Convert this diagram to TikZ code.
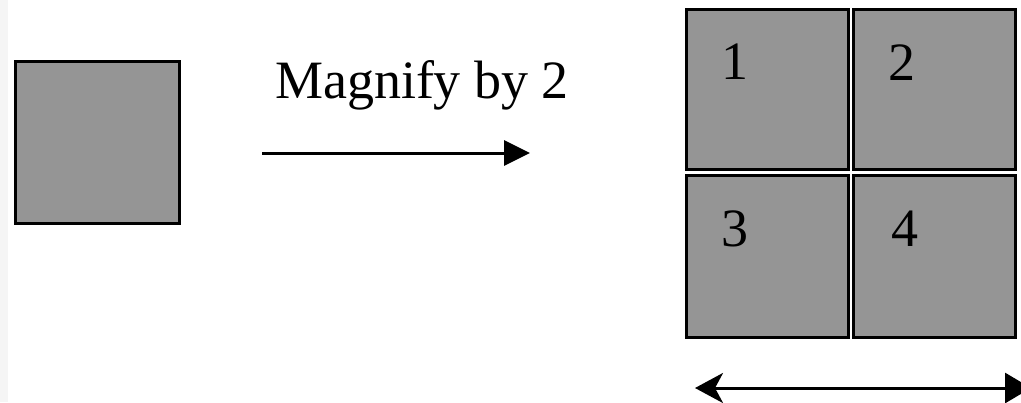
\documentclass[tikz,border=0pt]{standalone}
\usepackage{fontspec}
\setmainfont{Liberation Serif}
\usepackage{xcolor}
\usetikzlibrary{arrows.meta, positioning}
\definecolor{tilegray}{HTML}{959595}
\definecolor{edgegray}{HTML}{F5F5F5}

\begin{document}
\begin{tikzpicture}[x=0.5pt, y=-0.5pt, font=\fontsize{27pt}{32pt}\selectfont,
  tile/.style={draw=black, line width=1.5pt, fill=tilegray, inner sep=0pt, minimum width=81pt, minimum height=81pt},
  numlabel/.style={anchor=base, inner sep=0pt},
  shaft/.style={line width=1.5pt}]
  \useasboundingbox (0,0) rectangle (1021,402);
  \fill[edgegray] (0,0) rectangle (8,402);
  % ================================================================
  % original pixel
  % ================================================================
  \node[tile, minimum width=82pt] (src) at (97,142) {};
  % magnify arrow --------------------------------------------------
  \coordinate (mstart) at (262,153);
  \coordinate (mend) at (530,153);
  \draw[shaft, -{Triangle[length=13pt, width=12.5pt]}] (mstart) -- (mend);
  \node[numlabel] (mtext) at (422,98) {Magnify by 2};
  % ================================================================
  % magnified 2x2 block
  % ================================================================
  \node[tile, minimum height=80pt] (q1) at (767.5,89) {};
  \node[tile, minimum height=80pt] (q2) at (934,89) {};
  \node[tile] (q3) at (767.5,256) {};
  \node[tile] (q4) at (934,256) {};
  % labels ---------------------------------------------------------
  \node[numlabel] (n1) at (735,79) {1};
  \node[numlabel] (n2) at (902,80) {2};
  \node[numlabel] (n3) at (735,246) {3};
  \node[numlabel] (n4) at (905,246) {4};
  % width arrow ----------------------------------------------------
  \coordinate (wleft) at (695,388);
  \coordinate (wright) at (1031,388);
  \draw[shaft, {Stealth[length=14pt, width=15pt, inset=4pt]}-{Triangle[length=13pt, width=15pt]}] (wleft) -- (wright);
\end{tikzpicture}
\end{document}
